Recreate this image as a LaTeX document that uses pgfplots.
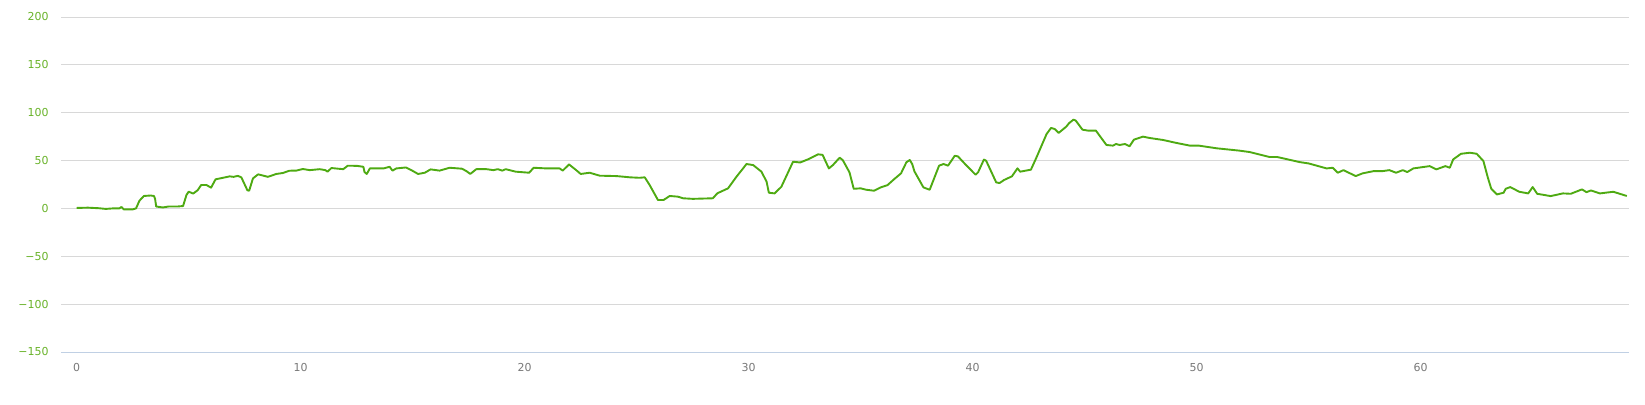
\documentclass[border=0pt]{standalone}
\usepackage{pgfplots}
\pgfplotsset{compat=1.18}
\usepackage{fontspec}
\setmainfont{DejaVu Sans}
\definecolor{ylab}{RGB}{104,178,40}
\definecolor{xlab}{RGB}{120,120,120}
\definecolor{gridc}{RGB}{216,216,216}
\definecolor{axc}{RGB}{192,208,228}
\definecolor{linec}{RGB}{78,170,18}
\begin{document}
\begin{tikzpicture}
\begin{axis}[
  scale only axis,
  width=1568bp, height=335bp,
  xmin=-0.7, xmax=69.3, ymin=-150, ymax=200,
  axis line style={draw=none},
  axis x line*=bottom,
  ytick={-150,-100,...,200},
  yticklabels={−150,−100,−50,0,50,100,150,200},
  xtick={0,10,...,60},
  ymajorgrids, grid style={gridc, line width=0.8pt},
  major tick length=0pt,
  tick style={draw=none},
  yticklabel style={ylab, font=\fontsize{11}{13}\selectfont, xshift=-9bp},
  xticklabel style={xlab, font=\fontsize{11}{13}\selectfont, yshift=-8bp},
  /pgf/number format/assume math mode=true,
  clip=false,
]
\draw[axc, line width=0.8pt] (rel axis cs:0,0) -- (rel axis cs:1,0);
\addplot[linec, line width=1.9pt, line join=round, mark=none] coordinates {
(0,0.5) (0.5,0.8) (1.0,0.2) (1.3,-0.5) (1.6,0) (1.9,0) (2.0,1.5) (2.1,-1) (2.5,-1) (2.65,0) (2.8,8) (3.0,13) (3.3,13.5) (3.45,13) (3.5,10) (3.55,2) (3.85,1) (4.1,2) (4.5,2) (4.75,2.5) (4.9,14) (5.0,17.5) (5.2,15.5) (5.4,19) (5.56,24.5) (5.79,24.5) (6.0,21.7) (6.2,30.4) (6.53,32) (6.83,33.5) (7.0,33) (7.2,34) (7.35,32.5) (7.5,25) (7.62,19) (7.7,18.5) (7.87,31.4) (8.1,35.6) (8.54,33) (8.91,36) (9.2,37) (9.5,39.4) (9.8,39.5) (10.1,41.2) (10.4,40) (10.85,41) (11.1,40) (11.2,38.4) (11.37,42.2) (11.9,41) (12.1,44.6) (12.5,44.5) (12.8,43.5) (12.85,38) (12.95,36) (13.09,41.8) (13.7,41.8) (13.97,43.5) (14.1,39.5) (14.27,41.8) (14.7,42.8) (14.94,40) (15.24,36) (15.54,37.3) (15.8,40.8) (16.2,39.5) (16.65,42.5) (17.2,41.5) (17.4,39) (17.57,36) (17.84,41) (18.3,41) (18.6,40) (18.8,41) (19.0,39.5) (19.15,41) (19.6,38.4) (20.2,37.3) (20.4,42.5) (20.97,41.8) (21.56,41.8) (21.7,39.5) (21.98,46) (22.3,40) (22.5,36) (22.9,37.3) (23.35,34.2) (24.1,33.8) (24.7,32.5) (25.13,32) (25.36,32.5) (25.58,24.4) (25.95,8.8) (26.2,8.8) (26.47,13) (26.84,12.3) (27.07,10.6) (27.5,10) (28.4,10.6) (28.6,15.8) (29.08,21) (29.45,33) (29.75,41.8) (29.9,46.4) (30.2,45.3) (30.57,38.4) (30.8,27.9) (30.9,16.4) (31.16,15.7) (31.46,22.7) (31.98,48.8) (32.3,48) (32.65,51.3) (33.1,56.5) (33.3,56) (33.44,48.8) (33.58,41.8) (33.76,45.3) (34.06,53) (34.2,50.5) (34.5,37.7) (34.69,20.5) (35.0,21) (35.25,19.5) (35.6,18.5) (35.9,22) (36.2,24.4) (36.5,30.7) (36.8,36.6) (37.04,48.2) (37.19,50.6) (37.3,46.4) (37.4,38.7) (37.8,22) (38.08,19.5) (38.5,44.7) (38.7,46.4) (38.9,44.7) (39.2,55) (39.34,54.4) (39.7,45.4) (40.13,35.2) (40.24,37.7) (40.5,51) (40.6,49.9) (41.05,27.2) (41.2,26.5) (41.4,29.7) (41.75,33.5) (42.0,41.9) (42.12,38.4) (42.6,40.5) (42.85,53.4) (43.3,77.8) (43.5,84.1) (43.66,83) (43.84,78.9) (44.18,85.5) (44.3,89) (44.5,92.8) (44.6,91.8) (44.9,82.3) (45.15,81.3) (45.5,81.3) (45.97,66.3) (46.26,65.6) (46.4,67.3) (46.56,66.3) (46.8,67.3) (47.0,64.9) (47.2,71.9) (47.6,75) (47.9,73.6) (48.5,71.5) (49.1,68.4) (49.7,65.6) (50.1,65.6) (50.9,62.8) (51.9,60.4) (52.37,58.9) (53.26,53.7) (53.6,53.7) (54.6,48.4) (55.0,47) (55.8,41.8) (56.07,42.5) (56.3,37.3) (56.55,40) (57.1,33.8) (57.4,36.6) (57.9,39) (58.3,39) (58.6,40) (58.9,37.3) (59.2,40) (59.4,38) (59.67,41.8) (60.4,44.2) (60.7,40.8) (61.1,44.2) (61.3,42.5) (61.45,51.2) (61.8,57.1) (62.2,58.2) (62.5,57.1) (62.8,49.5) (63.0,32) (63.15,20.6) (63.4,14.6) (63.7,16.4) (63.8,20.6) (64.0,22.3) (64.4,17.4) (64.8,15.7) (65.0,22.3) (65.2,15.3) (65.8,12.9) (66.0,13.9) (66.35,15.7) (66.7,15.3) (67.2,19.9) (67.4,17) (67.6,18.8) (68.0,15.7) (68.6,17.4) (69.2,13)
};
\end{axis}
\path (current axis.south west) ++(-61bp,-52bp) coordinate (bl);
\path (current axis.north east) ++(16bp,17bp) coordinate (tr);
\path[use as bounding box] (bl) rectangle (tr);
\end{tikzpicture}
\end{document}
